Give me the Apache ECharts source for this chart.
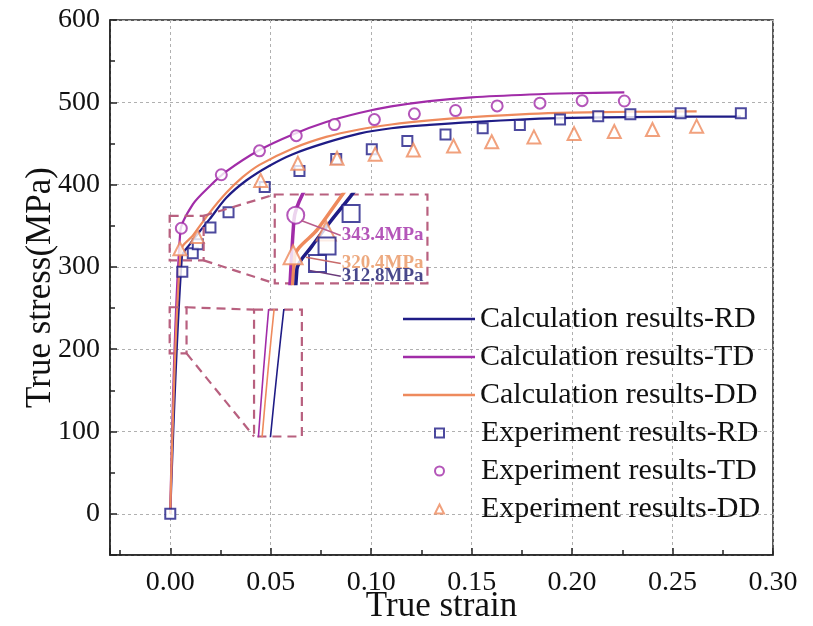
<!DOCTYPE html>
<html><head><meta charset="utf-8">
<script src="https://cdn.jsdelivr.net/npm/echarts@6/dist/echarts.min.js"></script>
<style>html,body{margin:0;padding:0;background:#fff}#c{width:813px;height:626px}</style>
</head><body><div id="c"></div>
<script>
// ---------- data (true strain, true stress MPa) ----------
const calcRD = [[0,0],[0.0058,312.8],[0.0096,327],[0.0146,343],[0.0196,358],[0.0279,384],[0.0378,405],[0.0494,423],[0.061,437],[0.0776,451],[0.094,462],[0.11,468.5],[0.129,472.5],[0.15,476],[0.179,479.5],[0.2,481],[0.23,482],[0.26,482.5],[0.284,482.5]];
const calcTD = [[0,0],[0.005,343.4],[0.0112,376],[0.0196,398],[0.0279,416],[0.0444,442],[0.061,461],[0.0776,476],[0.094,487],[0.11,495],[0.129,501.5],[0.15,506],[0.179,509.5],[0.2,511],[0.226,512]];
const calcDD = [[0,0],[0.0052,320.4],[0.0112,338],[0.0196,366],[0.0279,390],[0.036,409],[0.0444,424],[0.061,444],[0.0776,458],[0.094,467],[0.11,473],[0.129,478],[0.15,482],[0.179,486],[0.2,487.5],[0.23,488.5],[0.262,489]];
const expRD = [[0,0],[0.006,294],[0.0112,316.6],[0.0137,327.6],[0.020,348],[0.029,366.5],[0.047,397],[0.0643,416.6],[0.0826,431],[0.1003,443],[0.118,453],[0.137,461],[0.1555,468.5],[0.174,472.5],[0.194,479],[0.213,483],[0.229,485.5],[0.254,486.7],[0.284,486.7]];
const expTD = [[0.0055,347],[0.0254,412],[0.0444,441],[0.0627,459.5],[0.0817,473],[0.1016,479],[0.1215,486],[0.142,490],[0.1627,495.6],[0.184,499],[0.205,502],[0.226,501.6]];
const expDD = [[0.0048,322],[0.0135,337],[0.045,405],[0.0635,426],[0.083,432],[0.102,437],[0.121,442],[0.141,447],[0.160,452],[0.181,458],[0.201,462],[0.221,464.5],[0.240,467],[0.262,471]];

const seriesNames = ['Calculation results-RD','Calculation results-TD','Calculation results-DD','Experiment results-RD','Experiment results-TD','Experiment results-DD'];
const xTitle = 'True strain';
const yTitle = 'True stress(MPa)';

// zoom insets (in main-axis data units)
const insetA_src = [-0.0003, 308, 0.0166, 362];
const insetA_box = [0.052, 280, 0.128, 388];
const insetA_winX = [0, 0.04];
const insetA_winY = [304, 360];
const insetB_src = [-0.0003, 195, 0.0081, 251];
const insetB_box = [0.0417, 94, 0.0655, 248];
const insetB_winX = [0.0018, 0.0058];
const insetB_winY = [195, 251];

// yield annotations inside inset A (inset-window units)
const yieldLabels = ['343.4MPa','320.4MPa','312.8MPa'];
const leaderTD = [[0.0069,343.6],[0.0173,334.2]];
const leaderDD = [[0.0082,320.5],[0.0173,316.5]];
const leaderRD = [[0.0091,312.2],[0.0173,308.5]];

// ---------- styling ----------
const FONT = 'Liberation Serif';
const C_RD = '#1f1c86', C_TD = '#a12ca8', C_DD = '#ee8a5d', C_BOX = '#b8607f';

const chart = echarts.init(document.getElementById('c'));

function boxRender(fill){
  return function(params, api){
    const a = api.coord([api.value(0), api.value(1)]);
    const b = api.coord([api.value(2), api.value(3)]);
    return {type:'rect', shape:{x:Math.min(a[0],b[0]), y:Math.min(a[1],b[1]), width:Math.abs(b[0]-a[0]), height:Math.abs(b[1]-a[1])},
      style:{fill:fill, stroke:C_BOX, lineWidth:2.2, lineDash:[9,6]}};
  };
}
function lineS(name, data, color, width, xi, z){
  return {type:'line', name, data, xAxisIndex:xi, yAxisIndex:xi, symbol:'none', smooth:0.3, z,
    lineStyle:{color, width}, itemStyle:{color}, silent:true, animation:false};
}
function scatS(name, data, symbol, size, color, bw, xi, z){
  return {type:'scatter', name, data, xAxisIndex:xi, yAxisIndex:xi, symbol, symbolSize:size, z,
    itemStyle:{color, borderColor:color, borderWidth:bw}, silent:true, animation:false};
}
function conn(a,b){
  return {type:'line', data:[a,b], symbol:'none', z:4, silent:true, animation:false,
    lineStyle:{color:C_BOX, width:2.2, type:[9,6]}};
}
const fmtX = v => Math.abs(v/0.05 - Math.round(v/0.05)) > 1e-6 ? '' : v.toFixed(2);
const fmtY = v => (v < 0 ? '' : String(v));

const hiddenAxis = (min,max,gi) => ({type:'value', gridIndex:gi, min, max, show:false, splitLine:{show:false}});
const axisCommon = {
  axisLine:{onZero:false, lineStyle:{color:'#222', width:1.5}},
  axisTick:{inside:true, length:7, lineStyle:{color:'#222', width:1.5}},
  minorTick:{show:true, splitNumber:2, length:5, lineStyle:{color:'#222', width:1.5}},
  splitLine:{show:true, lineStyle:{color:'#b0b0b0', type:[3,3], width:1}},
  nameLocation:'middle',
  nameMoveOverlap:false,
  nameTextStyle:{fontFamily:FONT, fontSize:35, color:'#111'}
};

const option = {
  animation:false,
  backgroundColor:'#fff',
  textStyle:{fontFamily:FONT},
  grid:[
    {left:110, right:40, top:20, bottom:71, show:true, borderColor:'#222', borderWidth:1.5, outerBoundsMode:'none', containLabel:false},
    {left:0, top:0, width:10, height:10, outerBoundsMode:'none'},
    {left:0, top:0, width:10, height:10, outerBoundsMode:'none'}
  ],
  xAxis:[
    Object.assign({type:'value', gridIndex:0, min:-0.03, max:0.30, name:xTitle, nameGap:34,
     axisLabel:{formatter:fmtX, fontFamily:FONT, fontSize:28, color:'#111', margin:14}}, axisCommon),
    hiddenAxis(insetA_winX[0], insetA_winX[1], 1),
    hiddenAxis(insetB_winX[0], insetB_winX[1], 2)
  ],
  yAxis:[
    Object.assign({type:'value', gridIndex:0, min:-50, max:600, name:yTitle, nameGap:52,
     axisLabel:{formatter:fmtY, fontFamily:FONT, fontSize:28, color:'#111', margin:10}}, axisCommon),
    hiddenAxis(insetA_winY[0], insetA_winY[1], 1),
    hiddenAxis(insetB_winY[0], insetB_winY[1], 2)
  ],
  legend:[
    {data:seriesNames.slice(0,3).map(n=>({name:n, icon:'rect'})), orient:'vertical', left:403, top:304, padding:0,
     itemWidth:72, itemHeight:2.4, itemGap:8,
     textStyle:{fontFamily:FONT, fontSize:30, color:'#111'}, selectedMode:false},
    {data:seriesNames.slice(3), orient:'vertical', left:434, top:418, padding:0,
     itemWidth:9, itemHeight:9, itemGap:8,
     textStyle:{fontFamily:FONT, fontSize:30, color:'#111', padding:[0,0,0,32]}, selectedMode:false}
  ],
  series:[
    lineS(seriesNames[0], calcRD, C_RD, 2.2, 0, 2),
    lineS(seriesNames[1], calcTD, C_TD, 2.2, 0, 2),
    lineS(seriesNames[2], calcDD, C_DD, 2.2, 0, 2),
    scatS(seriesNames[3], expRD, 'emptyRect', 10, C_RD, 2, 0, 3),
    scatS(seriesNames[4], expTD, 'emptyCircle', 11, C_TD, 2, 0, 3),
    scatS(seriesNames[5], expDD, 'emptyTriangle', 13, C_DD, 2, 0, 3),
    // zoom boxes
    {type:'custom', data:[insetA_box, insetB_box], encode:{x:[0,2], y:[1,3]}, renderItem:boxRender('#fff'), z:4, silent:true, animation:false},
    {type:'custom', data:[insetA_src, insetB_src], encode:{x:[0,2], y:[1,3]}, renderItem:boxRender('none'), z:4, silent:true, animation:false},
    conn([insetA_src[2], insetA_src[3]], [insetA_box[0], insetA_box[3]]),
    conn([insetA_src[2], insetA_src[1]], [insetA_box[0], insetA_box[1]]),
    conn([insetB_src[2], insetB_src[3]], [insetB_box[0], insetB_box[3]]),
    conn([insetB_src[2], insetB_src[1]], [insetB_box[0], insetB_box[1]]),
    // inset A
    lineS('A-TD', calcTD, C_TD, 3.5, 1, 5),
    lineS('A-DD', calcDD, C_DD, 3.5, 1, 5),
    lineS('A-RD', calcRD, C_RD, 3.5, 1, 5),
    scatS('A-eTD', expTD, 'emptyCircle', 17, C_TD, 3, 1, 6),
    scatS('A-eDD', expDD, 'emptyTriangle', 19, C_DD, 3, 1, 6),
    scatS('A-eRD', expRD, 'emptyRect', 17, C_RD, 3, 1, 6),
    {type:'line', xAxisIndex:1, yAxisIndex:1, data:leaderTD, symbol:'none', z:7, silent:true, lineStyle:{color:'#b85c8c', width:1.5}, animation:false},
    {type:'line', xAxisIndex:1, yAxisIndex:1, data:leaderDD, symbol:'none', z:7, silent:true, lineStyle:{color:'#c86a6a', width:1.5}, animation:false},
    {type:'line', xAxisIndex:1, yAxisIndex:1, data:leaderRD, symbol:'none', z:7, silent:true, lineStyle:{color:'#6a3a7a', width:1.5}, animation:false},
    {type:'scatter', xAxisIndex:1, yAxisIndex:1, symbolSize:0, z:8, silent:true, animation:false,
     data:[leaderTD[1], leaderDD[1], leaderRD[1]].map((p,i)=>({value:p, label:{color:[C_TD, '#e9935f', '#1c1a6e'][i]}})),
     label:{show:true, position:'right', distance:1, fontFamily:FONT, fontWeight:'bold', fontSize:19,
       formatter:p=>yieldLabels[p.dataIndex]}},
    // inset B
    lineS('B-TD', calcTD, C_TD, 1.6, 2, 5),
    lineS('B-DD', calcDD, C_DD, 1.6, 2, 5),
    lineS('B-RD', calcRD, C_RD, 1.6, 2, 5)
  ]
};
chart.setOption(option);

function rectOf(box){
  const a = chart.convertToPixel({xAxisIndex:0, yAxisIndex:0}, [box[0], box[3]]);
  const b = chart.convertToPixel({xAxisIndex:0, yAxisIndex:0}, [box[2], box[1]]);
  return {left:a[0], top:a[1], width:b[0]-a[0], height:b[1]-a[1]};
}
chart.setOption({grid:[{}, rectOf(insetA_box), rectOf(insetB_box)]});
</script></body></html>
